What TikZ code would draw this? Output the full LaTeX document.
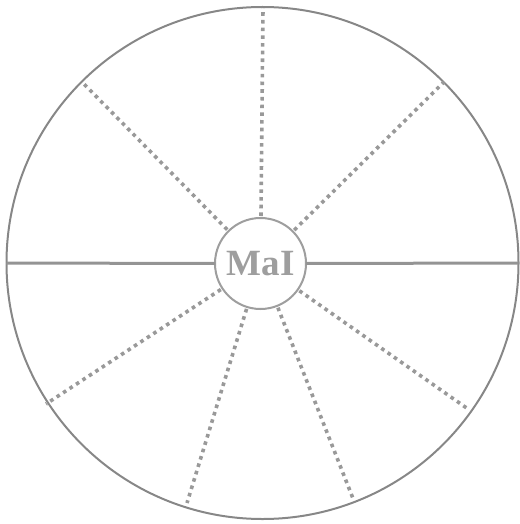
\documentclass[tikz,border=0pt]{standalone}
\usepackage{fontspec}
\setmainfont{Liberation Serif}
\begin{document}
\begin{tikzpicture}[x=1pt,y=-1pt,
  ring/.style={circle,draw=black!47,line width=2pt,inner sep=0pt,outer sep=0pt},
  spoke/.style={draw=black!40,line width=3.6pt,dash pattern=on 3.6pt off 4.1pt},
  axisline/.style={draw=black!42,line width=3pt}]
\useasboundingbox (0,0) rectangle (519,524);
\node[ring,minimum size=512pt] (o) at (262.5,263) {};
\node[ring,draw=black!38,minimum size=91pt,fill=white,text=black!38,font=\fontsize{37}{37}\selectfont\bfseries] (c) at (260.5,263.5) {MaI};
\coordinate (pt) at (263,8);
\coordinate (pul) at (82,82);
\coordinate (pur) at (444,82);
\coordinate (pll) at (46,404);
\coordinate (plr) at (468,409);
\coordinate (pbl) at (187,503);
\coordinate (pbr) at (354,501);
\draw[axisline] (c.west) -- (o.west);
\draw[axisline] (c.east) -- (o.east);
\foreach \p in {pt,pul,pur,pll,plr,pbl,pbr}
  \draw[spoke,shorten <=2pt] (c) -- (\p);
\end{tikzpicture}
\end{document}
